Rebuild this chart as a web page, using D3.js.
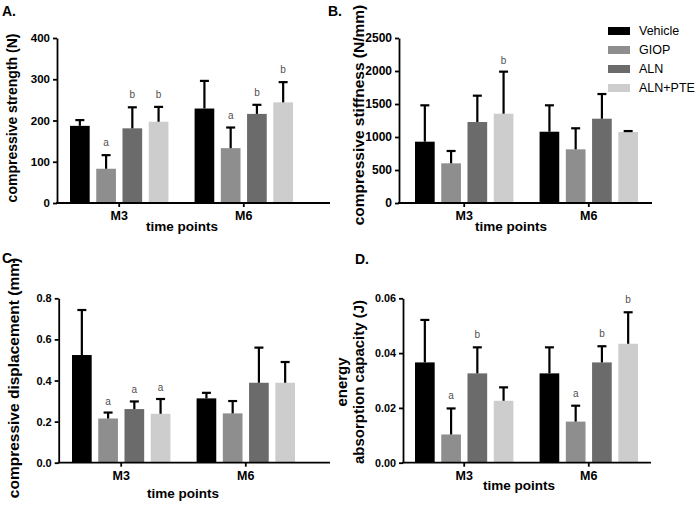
<!DOCTYPE html>
<html>
<head>
<meta charset="utf-8">
<script src="https://cdn.jsdelivr.net/npm/d3@7/dist/d3.min.js"></script>
<style>
  body { margin: 0; background: #fff; }
  svg { display: block; font-family: "Liberation Sans", Arial, sans-serif; }
  .axis path, .axis line { stroke: #000; stroke-width: 1.8px; }
  .axis text { font-weight: bold; fill: #000; }
</style>
</head>
<body>
<div id="chart"></div>
<script>
// categories
const groups = ['M3', 'M6'];
const series = ['Vehicle', 'GIOP', 'ALN', 'ALN+PTE'];
const barColors = ['#000000', '#8e8e8e', '#6b6b6b', '#cdcdcd'];

// values, rows are M3 then M6
const strengthMean = [[187, 83, 181, 197], [229, 133, 216, 244]];
const strengthSD = [[14, 33, 51, 36], [67, 50, 22, 49]];
const strengthMarks = [['', 'a', 'b', 'b'], ['', 'a', 'b', 'b']];
const strengthTicks = [0, 100, 200, 300, 400];

const stiffnessMean = [[929, 601, 1227, 1353], [1080, 813, 1277, 1076]];
const stiffnessSD = [[551, 187, 399, 637], [400, 319, 374, 14]];
const stiffnessMarks = [['', '', '', 'b'], ['', '', '', '']];
const stiffnessTicks = [0, 500, 1000, 1500, 2000, 2500];

const displacementMean = [[0.524, 0.215, 0.261, 0.238], [0.313, 0.240, 0.389, 0.389]];
const displacementSD = [[0.219, 0.029, 0.037, 0.072], [0.027, 0.060, 0.171, 0.101]];
const displacementMarks = [['', 'a', 'a', 'a'], ['', '', '', '']];
const displacementTicks = [0, 0.2, 0.4, 0.6, 0.8];

const energyMean = [[0.0366, 0.0103, 0.0326, 0.0226], [0.0326, 0.0150, 0.0366, 0.0434]];
const energySD = [[0.0155, 0.0095, 0.0095, 0.0049], [0.0095, 0.0058, 0.0059, 0.0115]];
const energyMarks = [['', 'a', 'b', ''], ['', 'a', 'b', 'b']];
const energyTicks = [0, 0.02, 0.04, 0.06];

const svg = d3.select('#chart').append('svg')
  .attr('width', 697)
  .attr('height', 505);

function drawPanel(p) {
  const g = svg.append('g');

  const y = d3.scaleLinear()
    .domain([0, p.ticks[p.ticks.length - 1]])
    .range([p.y0, p.yTop]);

  const x0 = d3.scaleBand()
    .domain(groups)
    .range([p.barStart, p.barEnd])
    .paddingInner(0.21)
    .paddingOuter(0);

  const x1 = d3.scaleBand()
    .domain(series)
    .range([0, x0.bandwidth()])
    .paddingInner(0.25)
    .paddingOuter(0);

  // bars with upper error bars
  groups.forEach((grp, gi) => {
    const gg = g.append('g').attr('transform', `translate(${x0(grp)},0)`);
    series.forEach((s, si) => {
      const m = p.mean[gi][si];
      const top = m + p.sd[gi][si];
      const cx = x1(s) + x1.bandwidth() / 2;
      gg.append('rect')
        .attr('x', x1(s))
        .attr('y', y(m))
        .attr('width', x1.bandwidth())
        .attr('height', p.y0 - y(m))
        .attr('fill', barColors[si]);
      gg.append('line')
        .attr('x1', cx).attr('x2', cx)
        .attr('y1', y(m)).attr('y2', y(top))
        .attr('stroke', '#000').attr('stroke-width', 2.2);
      gg.append('line')
        .attr('x1', cx - 4.5).attr('x2', cx + 4.5)
        .attr('y1', y(top)).attr('y2', y(top))
        .attr('stroke', '#000').attr('stroke-width', 2.2);
      const mark = p.marks[gi][si];
      if (mark) {
        gg.append('text')
          .attr('x', cx)
          .attr('y', y(top) - p.markGap)
          .attr('text-anchor', 'middle')
          .attr('font-size', 10)
          .attr('fill', '#505050')
          .text(mark);
      }
    });
  });

  // y axis
  const ya = g.append('g')
    .attr('class', 'axis')
    .attr('transform', `translate(${p.axisX},0)`)
    .call(d3.axisLeft(y).tickValues(p.ticks).tickSize(4).tickSizeOuter(0)
      .tickPadding(3).tickFormat(d3.format(p.fmt)));
  ya.selectAll('text').attr('font-size', p.tickSize);

  // x axis
  g.append('line')
    .attr('x1', p.axisX - 0.9).attr('x2', p.xEnd)
    .attr('y1', p.y0).attr('y2', p.y0)
    .attr('stroke', '#000').attr('stroke-width', 1.8);
  const xa = g.append('g')
    .attr('class', 'axis')
    .attr('transform', `translate(0,${p.y0})`)
    .call(d3.axisBottom(x0).tickSize(4).tickSizeOuter(0).tickPadding(4));
  xa.select('.domain').remove();
  xa.selectAll('text').attr('font-size', 12.5);

  // titles
  g.append('text')
    .attr('x', p.xTitleX).attr('y', p.xTitleY)
    .attr('text-anchor', 'middle')
    .attr('font-weight', 'bold').attr('font-size', 13.5)
    .text('time points');

  p.yTitle.forEach((line, i) => {
    g.append('text')
      .attr('transform', `translate(${p.yTitleX[i]},${p.yTitleCY}) rotate(-90)`)
      .attr('text-anchor', 'middle')
      .attr('font-weight', 'bold').attr('font-size', p.yTitleSize)
      .text(line);
  });

  g.append('text')
    .attr('x', p.labelX).attr('y', p.labelY)
    .attr('font-weight', 'bold').attr('font-size', 14)
    .text(p.label);
}

drawPanel({
  label: 'A.', labelX: 2, labelY: 16,
  mean: strengthMean, sd: strengthSD, marks: strengthMarks, ticks: strengthTicks, fmt: 'd', tickSize: 11.5,
  y0: 203, yTop: 38, axisX: 57, xEnd: 330, barStart: 70, barEnd: 293, markGap: 9,
  xTitleX: 182, xTitleY: 231,
  yTitle: ['compressive strength (N)'], yTitleX: [17], yTitleCY: 118, yTitleSize: 14
});

drawPanel({
  label: 'B.', labelX: 328, labelY: 16,
  mean: stiffnessMean, sd: stiffnessSD, marks: stiffnessMarks, ticks: stiffnessTicks, fmt: 'd', tickSize: 12,
  y0: 203, yTop: 38, axisX: 399, xEnd: 652, barStart: 415, barEnd: 638, markGap: 8,
  xTitleX: 511, xTitleY: 231,
  yTitle: ['compressive stiffness (N/mm)'], yTitleX: [364], yTitleCY: 115, yTitleSize: 15.5
});

drawPanel({
  label: 'C.', labelX: 2, labelY: 263,
  mean: displacementMean, sd: displacementSD, marks: displacementMarks, ticks: displacementTicks, fmt: '.1f', tickSize: 11,
  y0: 462.7, yTop: 298.3, axisX: 58.7, xEnd: 330, barStart: 72, barEnd: 295, markGap: 8,
  xTitleX: 183, xTitleY: 498,
  yTitle: ['compressive displacement (mm)'], yTitleX: [18.5], yTitleCY: 378, yTitleSize: 15.5
});

drawPanel({
  label: 'D.', labelX: 355, labelY: 264,
  mean: energyMean, sd: energySD, marks: energyMarks, ticks: energyTicks, fmt: '.2f', tickSize: 10.8,
  y0: 462.7, yTop: 298.3, axisX: 403, xEnd: 651, barStart: 415, barEnd: 638, markGap: 9,
  xTitleX: 519, xTitleY: 490,
  yTitle: ['energy', 'absorption capacity (J)'], yTitleX: [347, 364], yTitleCY: 382, yTitleSize: 15
});

// legend
const legend = svg.append('g').attr('transform', 'translate(608,27)');
series.forEach((s, i) => {
  const row = legend.append('g').attr('transform', `translate(0,${i * 19})`);
  row.append('rect')
    .attr('width', 22).attr('height', 8)
    .attr('fill', barColors[i]);
  row.append('text')
    .attr('x', 31).attr('y', 8)
    .attr('font-size', 12.5)
    .attr('fill', '#000')
    .text(s);
});
</script>
</body>
</html>
